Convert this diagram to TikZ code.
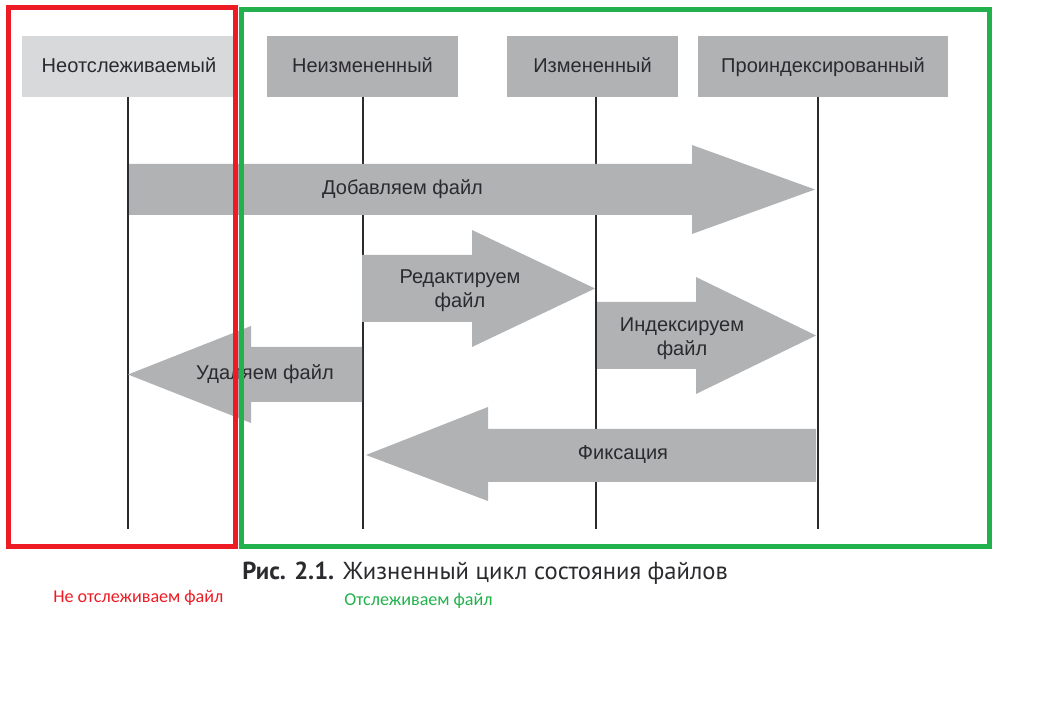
\documentclass[tikz,border=0pt]{standalone}
\usepackage{fontspec}
\setmainfont{Liberation Sans}
\newfontfamily\notefont{Carlito}
\newfontfamily\capfont{PT Sans}
\usetikzlibrary{positioning,calc}
\definecolor{hdrlight}{HTML}{D8D9DB}
\definecolor{hdrdark}{HTML}{B1B2B4}
\definecolor{blkgray}{HTML}{B1B2B4}
\definecolor{inkgray}{HTML}{2B2A2E}
\definecolor{untrred}{HTML}{ED1C24}
\definecolor{trgreen}{HTML}{22B14C}
\begin{document}
\begin{tikzpicture}[x=.2mm,y=-.2mm]
  \tikzset{hdr/.style={minimum height=61*.2mm,inner sep=0,text=inkgray,
      text height=8.3pt,text depth=1.6pt,
      font=\fontsize{11.4}{13.7}\selectfont},
    life/.style={draw=inkgray,line width=1.2pt},
    blk/.style={fill=blkgray},
    lbl/.style={text=inkgray,align=center,inner sep=0,
      font=\fontsize{11.4}{13.7}\selectfont},
    zone/.style={line width=2.85pt},
    note/.style={anchor=west,inner sep=0,font=\notefont\fontsize{10.3}{12}\selectfont}}
  \useasboundingbox (0,0) rectangle (1047,703);
  \node[hdr,fill=hdrlight,minimum width=214*.2mm] (untr) at (129,66.5) {Неотслеживаемый};
  \node[hdr,fill=hdrdark,minimum width=191*.2mm] (unmod) at (362.5,66.5) {Неизмененный};
  \node[hdr,fill=hdrdark,minimum width=171*.2mm] (mod) at (592.5,66.5) {Измененный};
  \node[hdr,fill=hdrdark,minimum width=250*.2mm] (stg) at (823,66.5) {Проиндексированный};
  \foreach \n/\x in {untr/128,unmod/363,mod/596,stg/818} {
    \coordinate (\n-top) at (\x,97);
    \coordinate (\n-end) at (\x,529);
    \draw[life] (\n-top) -- (\n-end);
  }
  \fill[blk] (129,164) -- (692,164) -- (692,145) -- (815,189.5) -- (692,234)
    -- (692,215) -- (129,215) -- cycle;
  \fill[blk] (362,255) -- (472,255) -- (472,230) -- (595,288.5) -- (472,347)
    -- (472,322) -- (362,322) -- cycle;
  \fill[blk] (597,302) -- (696,302) -- (696,277) -- (816,335.5) -- (696,394)
    -- (696,369) -- (597,369) -- cycle;
  \fill[blk] (128,374.5) -- (251,326) -- (251,347) -- (362,347) -- (362,402)
    -- (251,402) -- (251,423) -- cycle;
  \fill[blk] (366,455) -- (488,407) -- (488,429) -- (816,429) -- (816,482)
    -- (488,482) -- (488,501) -- cycle;
  \node[lbl] (add) at (402.5,189) {Добавляем файл};
  \node[lbl] (edit) at (460,290.5) {Редактируем\\файл};
  \node[lbl] (index) at (682,338.5) {Индексируем\\файл};
  \node[lbl] (del) at (265,374) {Удаляем файл};
  \node[lbl] (commit) at (623,455) {Фиксация};
  \draw[zone,untrred] (8.5,7.5) rectangle (235.5,546.5);
  \draw[zone,trgreen] (241.5,9.5) rectangle (989.5,546.5);
  \node[anchor=base west,inner sep=0,text=inkgray,
    font=\capfont\fontsize{14}{16}\selectfont] (cap) at (242,580)
    {\textbf{Рис. 2.1.} Жизненный цикл состояния файлов};
  \node[note,text=untrred] (untrnote) at (53,598) {Не отслеживаем файл};
  \node[note,text=trgreen] (trnote) at (344,601) {Отслеживаем файл};
\end{tikzpicture}
\end{document}
